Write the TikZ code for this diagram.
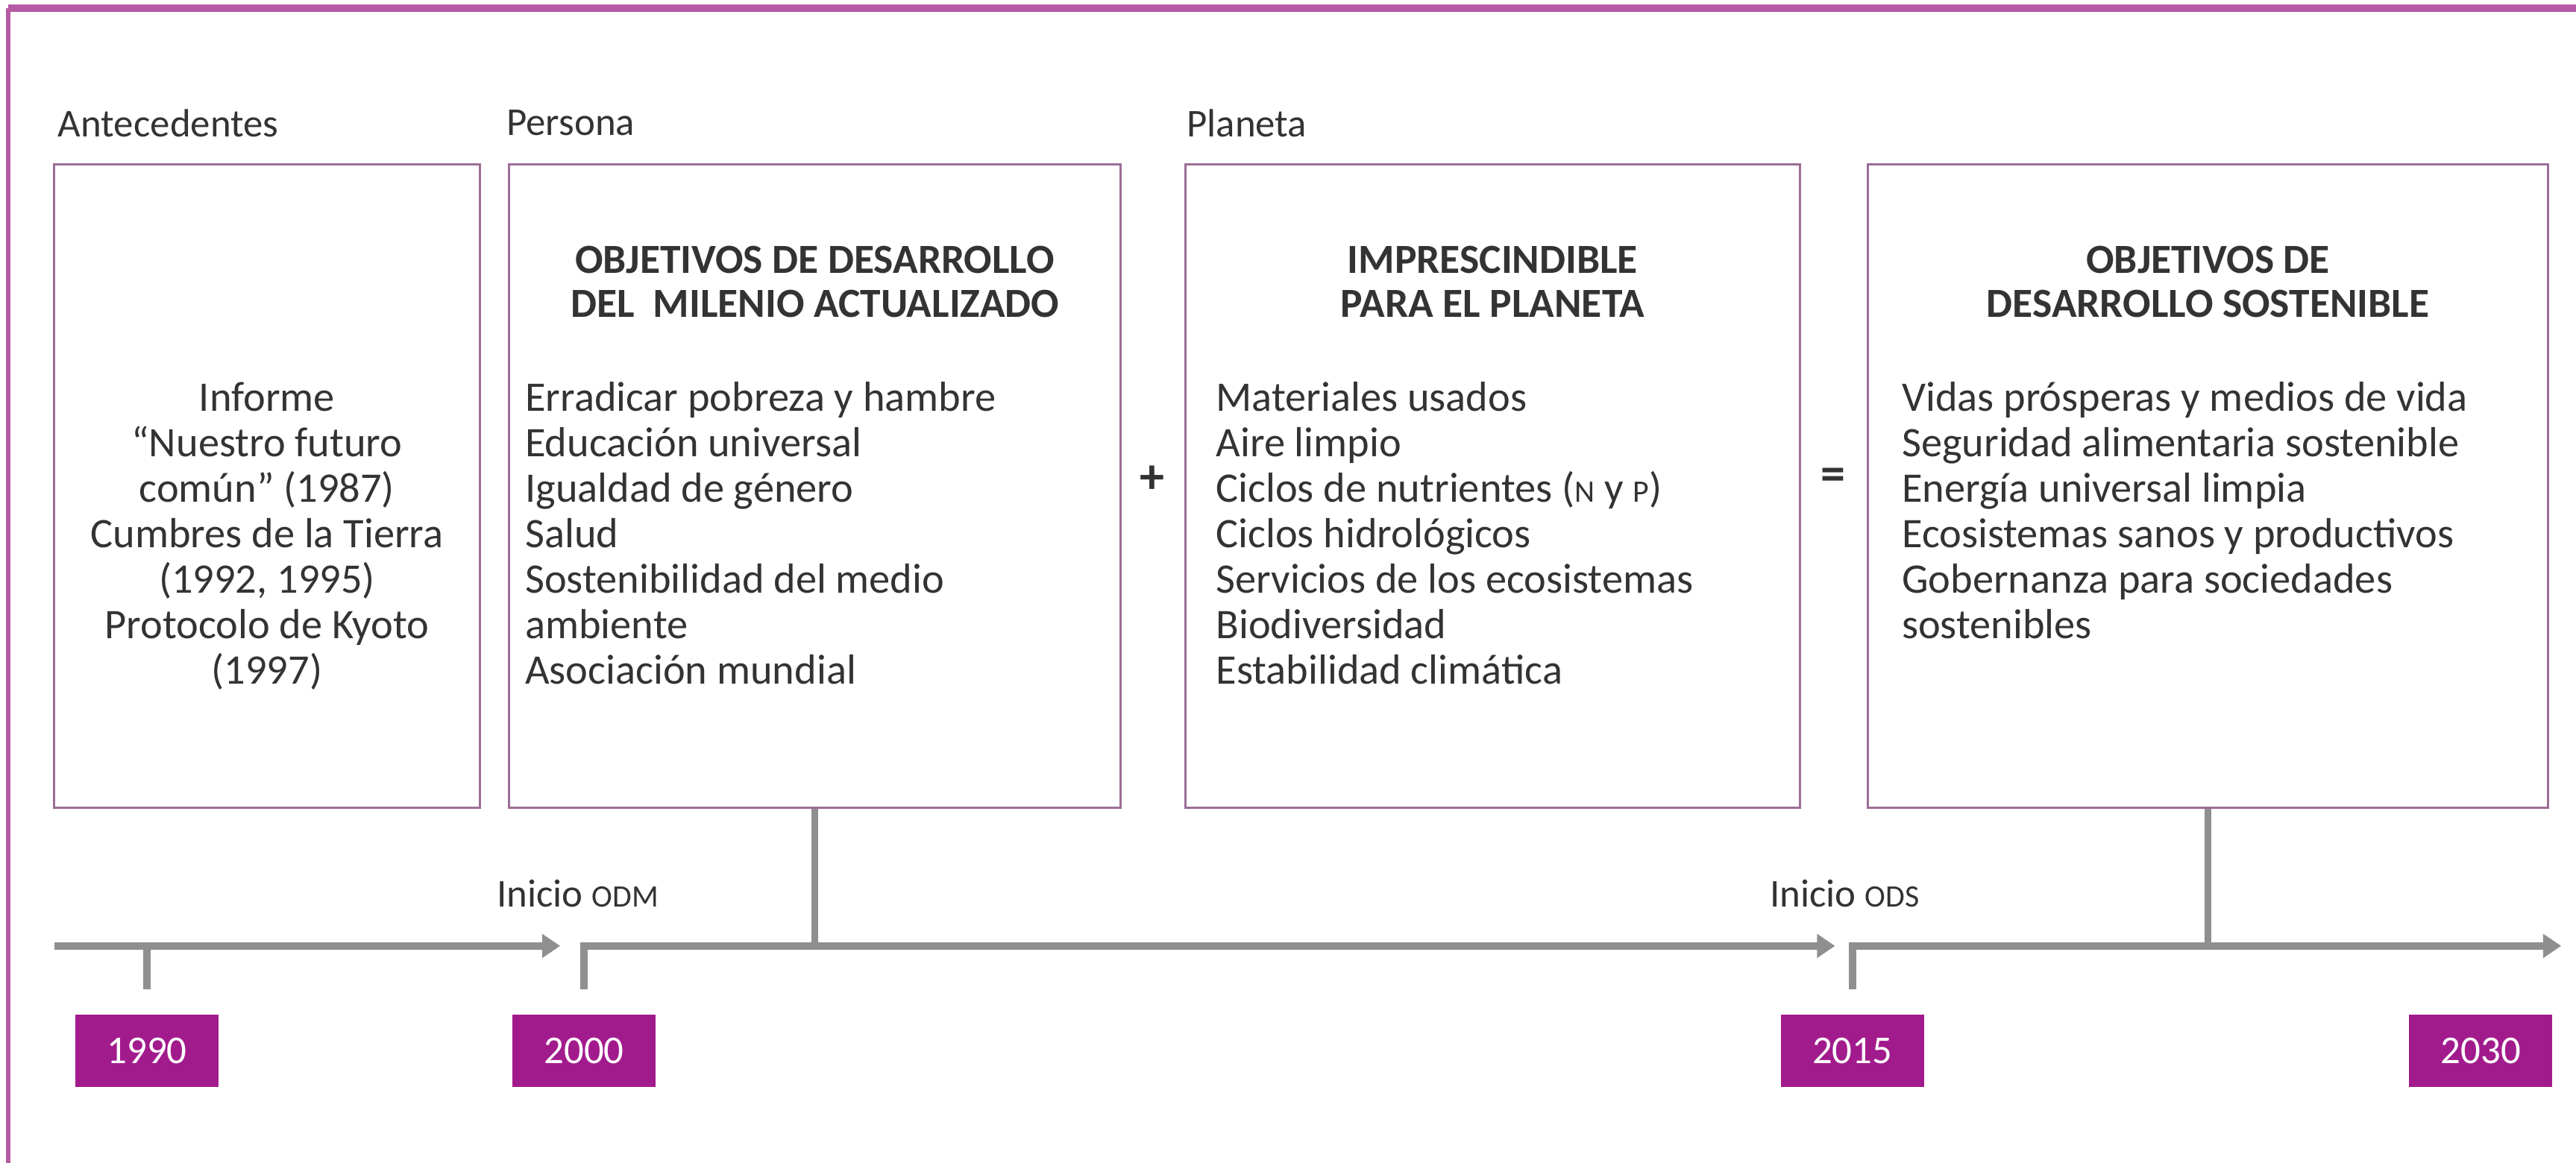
\documentclass[tikz,border=0pt]{standalone}
\usepackage{fontspec}
\setmainfont{Carlito}
\usetikzlibrary{arrows.meta,positioning,calc}

\definecolor{odsmag}{HTML}{A21B8D}
\definecolor{framemag}{HTML}{B65AA4}
\definecolor{boxline}{HTML}{9C6E96}
\definecolor{tlgray}{HTML}{8F8F8F}
\definecolor{txtgray}{HTML}{333333}

\newcommand\smc[1]{{\fontsize{9.5}{9.5}\selectfont #1}}

\tikzset{
  panel/.style={draw=boxline, line width=0.7pt, inner sep=0pt, minimum height=196pt},
  head/.style={anchor=west, inner sep=0pt, text=txtgray, font=\fontsize{12}{13}\selectfont},
  title/.style={anchor=north, align=center, inner sep=0pt, text=txtgray, font=\bfseries\fontsize{12.6}{13.5}\selectfont},
  body/.style={inner sep=0pt, text=txtgray, font=\fontsize{12.8}{13.85}\selectfont},
  op/.style={inner sep=0pt, text=txtgray, font=\bfseries\fontsize{15}{15}\selectfont},
  note/.style={anchor=west, inner sep=0pt, text=txtgray, font=\fontsize{12}{12}\selectfont},
  year/.style={fill=odsmag, text=white, inner sep=0pt, minimum width=43.5pt, minimum height=22pt, font=\fontsize{12}{12}\selectfont},
  tl/.style={draw=tlgray, line width=2.2pt},
  tlarrow/.style={tl, -{Triangle[length=5.5pt,width=7pt]}}
}

\begin{document}
\begin{tikzpicture}[x=0.5pt,y=0.5pt]
  \useasboundingbox (0,0) rectangle (1568,708);

  % marco
  \draw[framemag, line width=1.2pt] (5,0) -- (5,703);
  \draw[framemag, line width=2.2pt] (5,703) -- (1568,703);

  % encabezados
  \node[head] (hant) at (35,633) {Antecedentes};
  \node[head] (hper) at (308,633) {Persona};
  \node[head] (hpla) at (722,633) {Planeta};

  % cajas
  \node[panel, minimum width=129.5pt] (ant) at (162.5,412) {};
  \node[panel, minimum width=186pt] (odm) at (496,412) {};
  \node[panel, minimum width=187pt] (pla) at (908.5,412) {};
  \node[panel, minimum width=207pt] (ods) at (1344,412) {};

  \node[body, align=center, anchor=north] (antx) at ($(ant.north)+(0,-133)$)
    {Informe\\“Nuestro futuro\\común” (1987)\\Cumbres de la Tierra\\(1992, 1995)\\Protocolo de Kyoto\\(1997)};

  \node[title] (odmt) at ($(odm.north)+(0,-50)$)
    {OBJETIVOS DE DESARROLLO\\DEL\ \ MILENIO ACTUALIZADO};
  \node[body, align=left, anchor=north west] (odml) at ($(odm.north west)+(10,-133)$)
    {Erradicar pobreza y hambre\\Educación universal\\Igualdad de género\\Salud\\Sostenibilidad del medio\\ambiente\\Asociación mundial};

  \node[title] (plat) at ($(pla.north)+(0,-50)$)
    {IMPRESCINDIBLE\\PARA EL PLANETA};
  \node[body, align=left, anchor=north west] (plal) at ($(pla.north west)+(19,-133)$)
    {Materiales usados\\Aire limpio\\Ciclos de nutrientes (\smc{N} y \smc{P})\\Ciclos hidrológicos\\Servicios de los ecosistemas\\Biodiversidad\\Estabilidad climática};

  \node[title] (odst) at ($(ods.north)+(0,-50)$)
    {OBJETIVOS DE\\DESARROLLO SOSTENIBLE};
  \node[body, align=left, anchor=north west] (odsl) at ($(ods.north west)+(21,-133)$)
    {Vidas prósperas y medios de vida\\Seguridad alimentaria sostenible\\Energía universal limpia\\Ecosistemas sanos y productivos\\Gobernanza para sociedades\\sostenibles};

  \node[op] (plus) at (701.5,416) {+};
  \node[op] (eq) at (1116,416) {=};

  % linea de tiempo
  \node[year] (y1990) at (89.5,68) {1990};
  \node[year] (y2000) at (355.5,68) {2000};
  \node[year] (y2015) at (1127.5,68) {2015};
  \node[year] (y2030) at (1510,68) {2030};

  \coordinate (a0) at (33,132);
  \coordinate (a1) at (341,132);
  \coordinate (a2) at (1117,132);
  \coordinate (a3) at (1559,132);

  \draw[tlarrow] (a0) -- (a1);
  \draw[tl] ($(y1990.north)+(0,15)$) -- (y1990.north |- a0);
  \draw[tlarrow] ($(y2000.north)+(0,15)$) |- (a2);
  \draw[tlarrow] ($(y2015.north)+(0,15)$) |- (a3);
  \draw[tl] (odm.south) -- (odm.south |- a2);
  \draw[tl] (ods.south) -- (ods.south |- a3);

  \node[note] (iodm) at (302,164) {Inicio \smc{ODM}};
  \node[note] (iods) at (1077,164) {Inicio \smc{ODS}};
\end{tikzpicture}
\end{document}
